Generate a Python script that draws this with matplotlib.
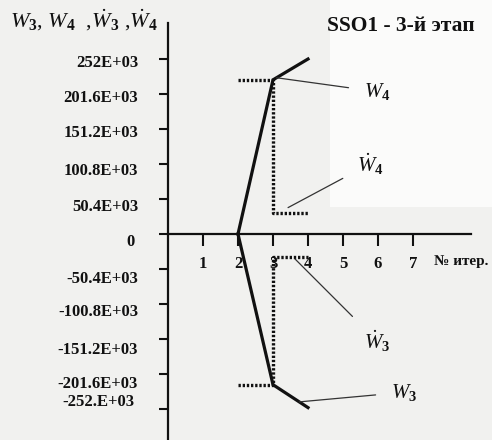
import numpy as np
import matplotlib.pyplot as plt
from matplotlib.patches import Rectangle

plt.rcParams['mathtext.fontset'] = 'custom'
plt.rcParams['mathtext.rm'] = 'Liberation Serif'
plt.rcParams['mathtext.it'] = 'Liberation Serif:italic'
plt.rcParams['mathtext.bf'] = 'Liberation Serif:bold'

# iterations and values
iters = [2, 3, 4]
w4 = [0, 222e3, 252e3]
w3 = [0, -217e3, -250e3]
w4_dot = [w4[1] - w4[0], w4[2] - w4[1]]
w3_dot = [w3[1] - w3[0], w3[2] - w3[1]]

y_ticks = [252e3, 201.6e3, 151.2e3, 100.8e3, 50.4e3, 0,
           -50.4e3, -100.8e3, -151.2e3, -201.6e3, -252e3]
y_labels = ['252E+03', '201.6E+03', '151.2E+03', '100.8E+03', '50.4E+03', '0',
            '-50.4E+03', '-100.8E+03', '-151.2E+03', '-201.6E+03', '-252.E+03']
# nudge of each label (points; dy negative = down)
y_label_dx = [-21.5] * 5 + [-24] + [-21.5] * 4 + [-24]
y_label_dy = [-3, -3, -3, -5, -6, -6, -7, -6, -8, -7, 5]
x_ticks = [1, 2, 3, 4, 5, 6, 7]

# pixel layout: origin at (168, 234), 35 px per unit / per 50.4E+03
W, H = 492, 440
X0, Y0, STEP = 168, 234, 35
YS = 50.4e3 / STEP

fig = plt.figure(figsize=(W / 100, H / 100), dpi=100)
fig.patch.set_facecolor('#f1f1ef')
ax = fig.add_axes([0, 0, 1, 1])
ax.set_facecolor('none')
ax.set_xlim(-X0 / STEP, (W - X0) / STEP)
ax.set_ylim(-(H - Y0) * YS, Y0 * YS)
ax.add_patch(Rectangle((0.67, 0.53), 0.33, 0.47, transform=ax.transAxes,
                       facecolor='#fbfbfa', edgecolor='none', zorder=0))

for s in ['top', 'right']:
    ax.spines[s].set_visible(False)
ax.spines['left'].set_position(('data', 0))
ax.spines['bottom'].set_position(('data', 0))
ax.spines['left'].set_bounds(-(H - Y0) * YS, (Y0 - 23) * YS)
ax.spines['bottom'].set_bounds(0, (471 - X0) / STEP)
for s in ['left', 'bottom']:
    ax.spines[s].set_linewidth(1.6)
    ax.spines[s].set_color('#111111')

bold = dict(family='Liberation Serif', weight='bold', color='#111111')
ax.set_xticks(x_ticks)
ax.set_xticklabels([str(t) for t in x_ticks], fontsize=12, **bold)
ax.tick_params(axis='x', direction='out', length=8.5, width=1.5, pad=7, color='#111111')
ax.set_yticks(y_ticks)
ax.set_yticklabels([])
ax.tick_params(axis='y', direction='out', length=6.5, width=1.5, color='#111111')

for v, lab, dx, dy in zip(y_ticks, y_labels, y_label_dx, y_label_dy):
    ax.annotate(lab, (0, v), xytext=(dx, dy), textcoords='offset points',
                ha='right', va='center', fontsize=12, **bold)

ax.text(7.6, -40e3, '№ итер.', fontsize=11, va='center', **bold)
ax.text(0.665, 0.94, 'SSO1 - 3-й этап', transform=ax.transAxes, ha='left', va='center',
        fontsize=15.5, **bold)
ax.text(0.02, 0.955,
        r'$W_{\mathbf{3}}$, $W_{\mathbf{4}}$  ,$\dot{W}_{\mathbf{3}}$ ,$\dot{W}_{\mathbf{4}}$',
        transform=ax.transAxes, ha='left', va='center', fontsize=16,
        family='Liberation Serif', color='#111111')

# curves and their increments
ax.plot(iters, w4, color='#111111', lw=2.3, solid_joinstyle='miter')
ax.plot(iters, w3, color='#111111', lw=2.3, solid_joinstyle='miter')
ax.plot(iters, w4_dot + [w4_dot[-1]], drawstyle='steps-post', color='#111111',
        lw=2.4, linestyle=(0, (0.7, 0.55)))
ax.plot(iters, w3_dot + [w3_dot[-1]], drawstyle='steps-post', color='#111111',
        lw=2.4, linestyle=(0, (0.7, 0.55)))

lab_kw = dict(fontsize=15, family='Liberation Serif', color='#111111', ha='center', va='center',
              arrowprops=dict(arrowstyle='-', color='#333333', lw=0.9, shrinkA=9, shrinkB=0))
ax.annotate(r'$W_{\mathbf{4}}$', (3.1, np.interp(3.1, iters, w4)), xytext=(5.97, 205e3), **lab_kw)
ax.annotate(r'$\dot{W}_{\mathbf{4}}$', (3.43, w4_dot[1] + 8e3), xytext=(5.77, 101e3), **lab_kw)
ax.annotate(r'$\dot{W}_{\mathbf{3}}$', (3.63, w3_dot[1] - 3e3), xytext=(5.97, -154e3), **lab_kw)
ax.annotate(r'$W_{\mathbf{3}}$', (3.75, np.interp(3.75, iters, w3)), xytext=(6.74, -228e3), **lab_kw)

fig.savefig('out.png', dpi=100, facecolor=fig.get_facecolor())
